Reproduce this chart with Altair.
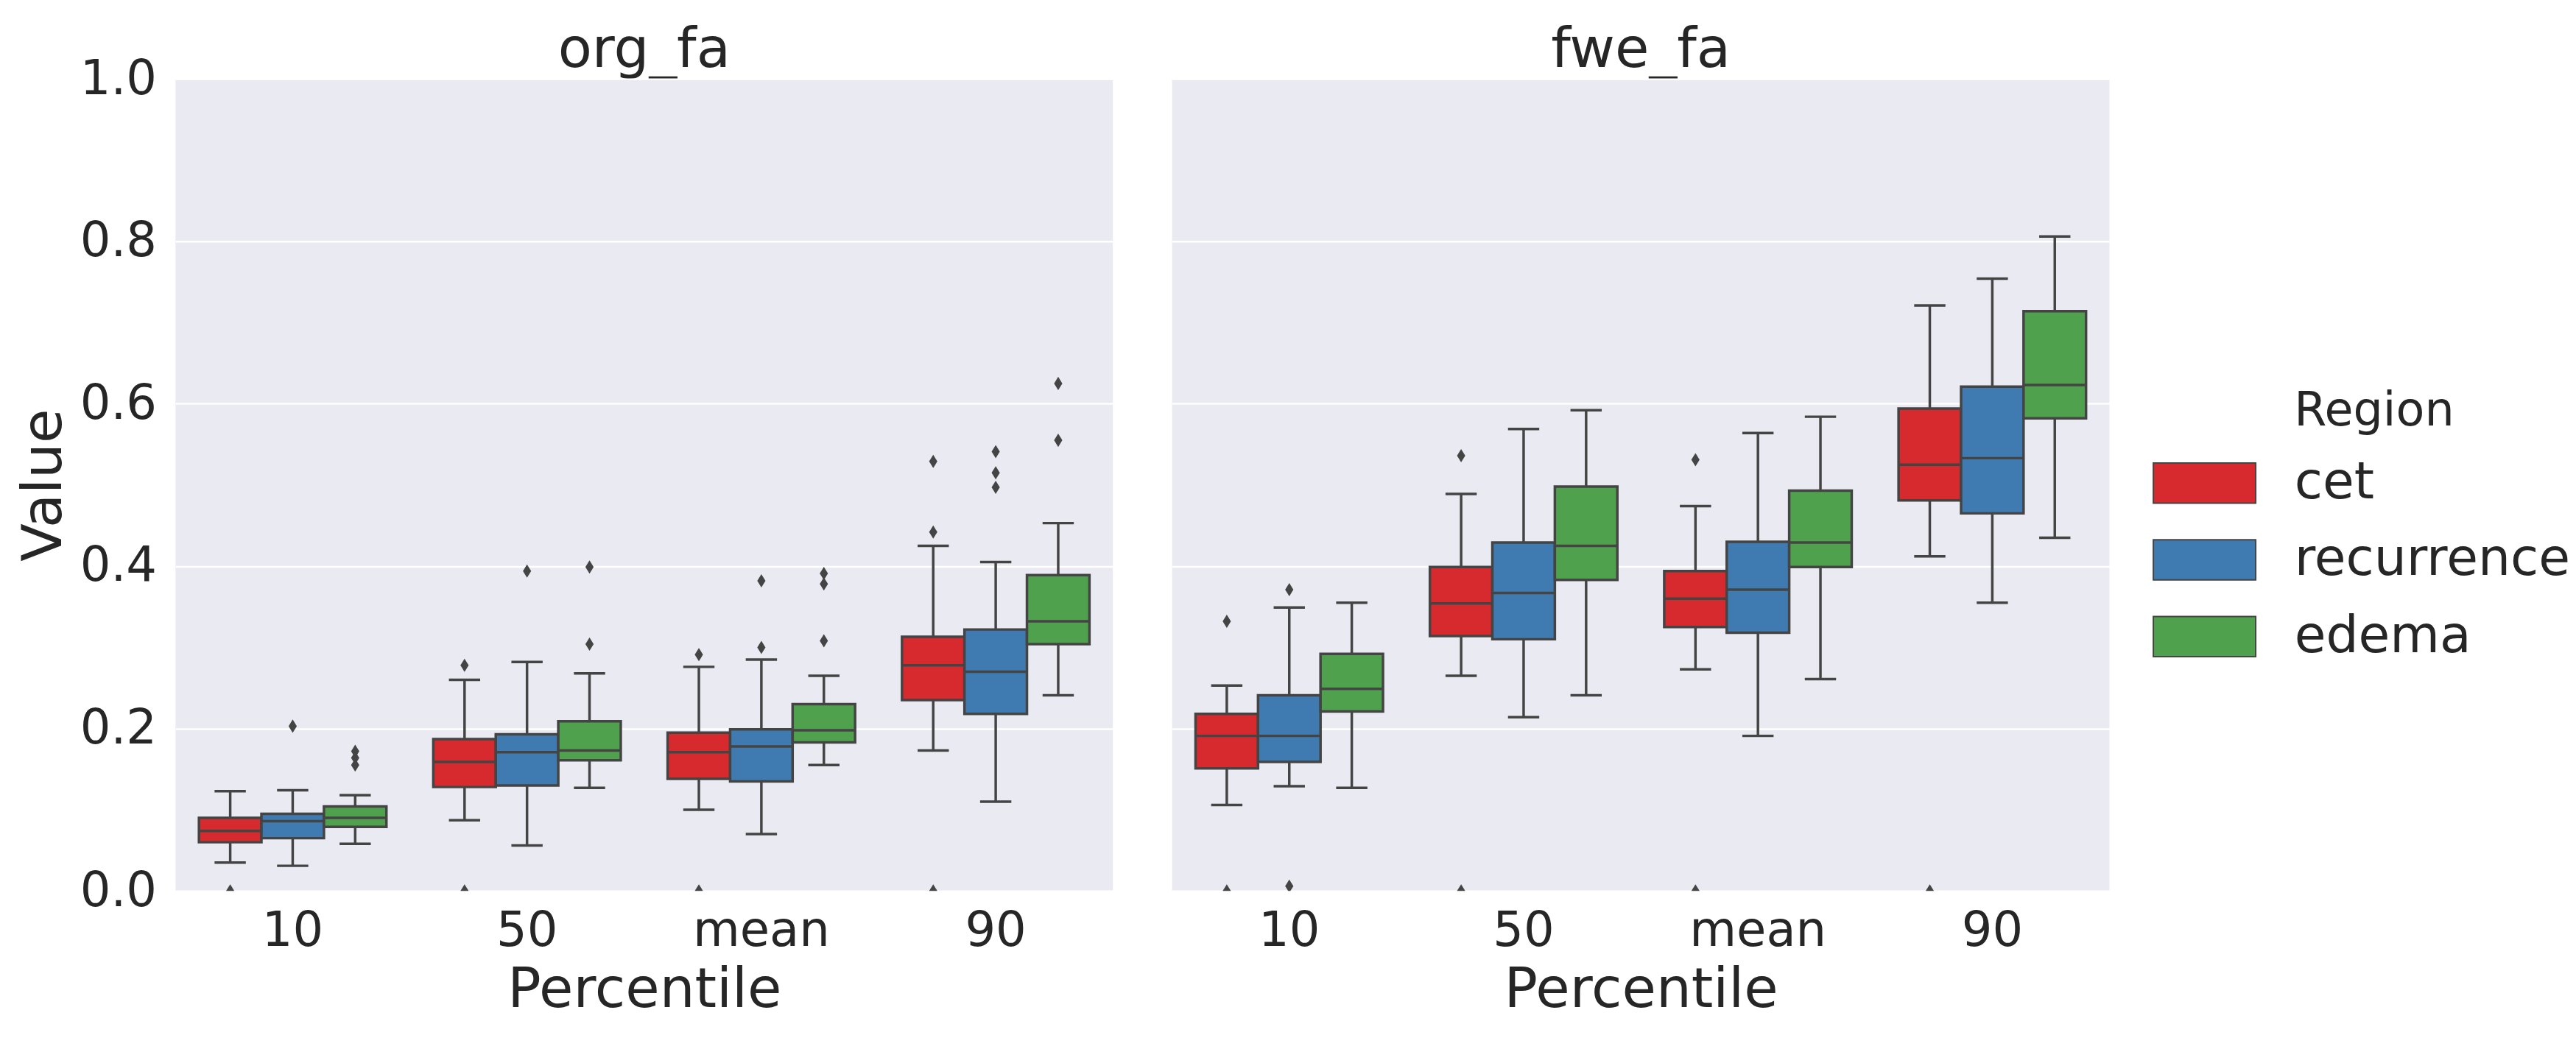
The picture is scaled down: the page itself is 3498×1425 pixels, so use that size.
import altair as alt
import pandas as pd
import numpy as np

measures = ["org_fa", "fwe_fa"]
percentiles = ["10", "50", "mean", "90"]
regions = ["cet", "recurrence", "edema"]
colors = ["#d62a2f", "#3f7bb0", "#50a14e"]

# per measure: rows ordered percentile x region -> (whisker_low, q1, median, q3, whisker_high)
org_low = [0.035, 0.031, 0.058, 0.087, 0.056, 0.127, 0.100, 0.070, 0.155, 0.173, 0.110, 0.241]
org_q1 = [0.060, 0.065, 0.079, 0.128, 0.130, 0.161, 0.138, 0.135, 0.183, 0.235, 0.218, 0.304]
org_med = [0.074, 0.086, 0.090, 0.159, 0.171, 0.173, 0.171, 0.178, 0.198, 0.278, 0.270, 0.332]
org_q3 = [0.090, 0.095, 0.104, 0.187, 0.193, 0.209, 0.195, 0.199, 0.230, 0.313, 0.322, 0.389]
org_high = [0.123, 0.124, 0.118, 0.260, 0.282, 0.268, 0.276, 0.285, 0.265, 0.425, 0.405, 0.453]

fwe_low = [0.106, 0.129, 0.127, 0.265, 0.214, 0.241, 0.273, 0.191, 0.261, 0.412, 0.355, 0.435]
fwe_q1 = [0.151, 0.159, 0.221, 0.314, 0.310, 0.383, 0.325, 0.318, 0.399, 0.481, 0.465, 0.582]
fwe_med = [0.191, 0.191, 0.249, 0.354, 0.367, 0.425, 0.360, 0.371, 0.429, 0.525, 0.533, 0.623]
fwe_q3 = [0.218, 0.241, 0.292, 0.399, 0.429, 0.498, 0.394, 0.430, 0.493, 0.594, 0.621, 0.714]
fwe_high = [0.253, 0.349, 0.355, 0.489, 0.569, 0.592, 0.474, 0.564, 0.584, 0.721, 0.754, 0.806]

# outliers: (measure, percentile, region, value)
outlier_measure = ["org_fa"] * 25 + ["fwe_fa"] * 9
outlier_percentile = ["10", "10", "10", "10", "10",
                      "50", "50", "50", "50", "50",
                      "mean", "mean", "mean", "mean", "mean", "mean", "mean",
                      "90", "90", "90", "90", "90", "90", "90", "90",
                      "10", "10", "10", "10", "50", "50", "mean", "mean", "90"]
outlier_region = ["cet", "recurrence", "edema", "edema", "edema",
                  "cet", "cet", "recurrence", "edema", "edema",
                  "cet", "cet", "recurrence", "recurrence", "edema", "edema", "edema",
                  "cet", "cet", "cet", "recurrence", "recurrence", "recurrence", "edema", "edema",
                  "cet", "cet", "recurrence", "recurrence", "cet", "cet", "cet", "cet", "cet"]
outlier_value = [0.0, 0.203, 0.172, 0.164, 0.155,
                 0.278, 0.0, 0.394, 0.399, 0.304,
                 0.291, 0.0, 0.382, 0.300, 0.391, 0.378, 0.308,
                 0.529, 0.442, 0.0, 0.541, 0.515, 0.497, 0.625, 0.555,
                 0.332, 0.0, 0.371, 0.006, 0.536, 0.0, 0.531, 0.0, 0.0]

stats = {"org_fa": (org_low, org_q1, org_med, org_q3, org_high),
         "fwe_fa": (fwe_low, fwe_q1, fwe_med, fwe_q3, fwe_high)}

rows = []
for m in measures:
    lo, q1, md, q3, hi = stats[m]
    i = 0
    for p in percentiles:
        for r in regions:
            rows.append(dict(kind="box", Measure=m, Percentile=p, Region=r,
                             lo=lo[i], q1=q1[i], med=md[i], q3=q3[i], hi=hi[i], out=np.nan))
            i += 1
for m, p, r, v in zip(outlier_measure, outlier_percentile, outlier_region, outlier_value):
    rows.append(dict(kind="out", Measure=m, Percentile=p, Region=r,
                     lo=np.nan, q1=np.nan, med=np.nan, q3=np.nan, hi=np.nan, out=v))
df = pd.DataFrame(rows)

W = 1282
H = 1111
SUB = W * 0.2 / 3
LINE = "#444444"
TXT = "#262626"
FONT = "DejaVu Sans"

xenc = alt.X("Percentile:N", sort=percentiles,
             scale=alt.Scale(paddingInner=0.2, paddingOuter=0.1),
             axis=alt.Axis(title="Percentile", labelAngle=0, grid=False, labelPadding=23,
                           titlePadding=10, labelLimit=0))
xoff = alt.XOffset("Region:N", sort=regions, scale=alt.Scale(paddingInner=0, paddingOuter=0))
yscale = alt.Scale(domain=[0, 1], nice=False)
yaxis = alt.Axis(title="Value", values=[0, 0.2, 0.4, 0.6, 0.8, 1.0], format=".1f",
                 labelPadding=26, titlePadding=10, labelLimit=0)

base = alt.Chart().transform_filter("datum.kind == 'box'")

whisk = base.mark_rule(color=LINE, strokeWidth=3.5).encode(
    x=xenc, xOffset=xoff,
    y=alt.Y("lo:Q", scale=yscale, axis=yaxis),
    y2="hi:Q")

rect_path = "M-2.8,-1.1L2.8,-1.1L2.8,1.1L-2.8,1.1Z"
boxes = base.mark_bar(stroke=LINE, strokeWidth=3.5, opacity=1).encode(
    x=xenc, xOffset=xoff,
    y=alt.Y("q1:Q", scale=yscale, axis=yaxis),
    y2="q3:Q",
    color=alt.Color("Region:N", sort=regions,
                    scale=alt.Scale(domain=regions, range=colors),
                    legend=alt.Legend(title="Region", orient="none", legendX=2740, legendY=423,
                                      titleFontSize=64, titleFontWeight="normal",
                                      titleColor=TXT, labelColor=TXT, labelFontSize=70,
                                      labelLimit=0, titleLimit=0,
                                      symbolType=rect_path, symbolSize=2500,
                                      symbolStrokeColor=LINE, symbolStrokeWidth=2,
                                      symbolOpacity=1, labelOffset=88, rowPadding=35,
                                      titlePadding=31, titleAnchor="middle", padding=0)))

med = base.mark_tick(color=LINE, thickness=3.5, size=SUB, opacity=1).encode(
    x=xenc, xOffset=xoff, y=alt.Y("med:Q", scale=yscale, axis=yaxis))
cap_lo = base.mark_tick(color=LINE, thickness=3.5, size=SUB / 2, opacity=1).encode(
    x=xenc, xOffset=xoff, y=alt.Y("lo:Q", scale=yscale, axis=yaxis))
cap_hi = base.mark_tick(color=LINE, thickness=3.5, size=SUB / 2, opacity=1).encode(
    x=xenc, xOffset=xoff, y=alt.Y("hi:Q", scale=yscale, axis=yaxis))

pts = alt.Chart().transform_filter("datum.kind == 'out'").mark_point(
    shape="M-0.62,0L0,-1L0.62,0L0,1Z", filled=True, color=LINE, size=330, opacity=1,
    clip=True).encode(
    x=xenc, xOffset=xoff, y=alt.Y("out:Q", scale=yscale, axis=yaxis))

layer = alt.layer(whisk, boxes, med, cap_lo, cap_hi, pts).properties(width=W, height=H)

chart = layer.facet(
    column=alt.Column("Measure:N", sort=measures,
                      header=alt.Header(title=None, labelFontSize=76, labelColor=TXT,
                                        labelPadding=0, labelFont=FONT)),
    data=df,
    spacing=81,
).properties(
    padding={"left": 14, "top": 18, "right": 0, "bottom": 0}
).configure(
    font=FONT
).configure_view(
    fill="#EAEAF2", stroke=None
).configure_axis(
    labelFontSize=66, titleFontSize=76, labelColor=TXT, titleColor=TXT,
    titleFontWeight="normal", labelFont=FONT, titleFont=FONT,
    grid=True, gridColor="white", gridWidth=2.5, domain=False, ticks=False
).configure_axisX(grid=False)

chart.save("out.html", embed_options={"renderer": "svg", "actions": False})
